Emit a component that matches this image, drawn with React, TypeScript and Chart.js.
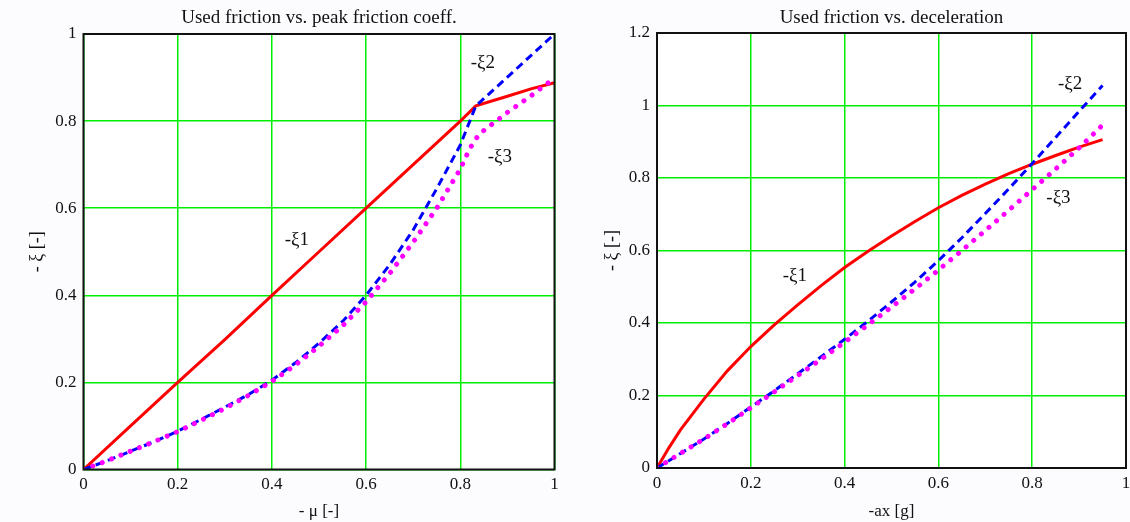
import React, { useEffect, useRef } from 'react';
import { Chart, registerables } from 'chart.js';

Chart.register(...registerables);

// ---------- Left chart: used friction vs. peak friction coefficient ----------
const leftTitle = 'Used friction vs. peak friction coeff.';
const leftXTitle = '- \u03bc [-]';
const leftYTitle = '- \u03be [-]';
const leftXTicks = [0, 0.2, 0.4, 0.6, 0.8, 1];
const leftYTicks = [0, 0.2, 0.4, 0.6, 0.8, 1];

const leftMu1 = [0, 0.1, 0.2, 0.3, 0.4, 0.5, 0.6, 0.7, 0.8, 0.833, 0.9, 0.95, 1.0];
const leftXi1 = [0, 0.1, 0.2, 0.298, 0.4, 0.5, 0.6, 0.7, 0.8, 0.835, 0.857, 0.874, 0.888];

const leftMu2 = [0, 0.05, 0.1, 0.15, 0.2, 0.25, 0.3, 0.35, 0.4, 0.45, 0.5, 0.55, 0.6, 0.65, 0.7, 0.75, 0.8, 0.833, 0.9, 1.0];
const leftXi2 = [0, 0.02, 0.042, 0.064, 0.088, 0.115, 0.143, 0.172, 0.205, 0.245, 0.29, 0.34, 0.4, 0.47, 0.55, 0.645, 0.745, 0.835, 0.901, 1.0];

const leftMu3 = [0, 0.05, 0.1, 0.15, 0.2, 0.25, 0.3, 0.35, 0.4, 0.45, 0.5, 0.55, 0.6, 0.65, 0.7, 0.75, 0.8, 0.82, 0.84, 0.86, 0.88, 0.9, 0.95, 1.0];
const leftXi3 = [0, 0.02, 0.042, 0.064, 0.087, 0.113, 0.14, 0.17, 0.202, 0.24, 0.283, 0.33, 0.385, 0.45, 0.522, 0.6, 0.69, 0.737, 0.77, 0.787, 0.803, 0.82, 0.858, 0.899];

const leftLabelText = ['-\u03be1', '-\u03be2', '-\u03be3'];
const leftLabelX = [0.453, 0.848, 0.884];
const leftLabelY = [0.527, 0.933, 0.718];

// ---------- Right chart: used friction vs. deceleration ----------
const rightTitle = 'Used friction vs. deceleration';
const rightXTitle = '-ax [g]';
const rightYTitle = '- \u03be [-]';
const rightXTicks = [0, 0.2, 0.4, 0.6, 0.8, 1];
const rightYTicks = [0, 0.2, 0.4, 0.6, 0.8, 1, 1.2];

const rightAx1 = [0, 0.025, 0.05, 0.1, 0.15, 0.2, 0.25, 0.3, 0.35, 0.4, 0.45, 0.5, 0.55, 0.6, 0.65, 0.7, 0.75, 0.8, 0.85, 0.9, 0.95];
const rightXi1 = [0, 0.055, 0.105, 0.19, 0.268, 0.335, 0.395, 0.45, 0.503, 0.553, 0.598, 0.64, 0.68, 0.718, 0.752, 0.783, 0.812, 0.838, 0.862, 0.885, 0.906];

const rightAx = [0, 0.05, 0.1, 0.15, 0.2, 0.25, 0.3, 0.35, 0.4, 0.45, 0.5, 0.55, 0.6, 0.65, 0.7, 0.75, 0.8, 0.85, 0.9, 0.95];
const rightXi2 = [0, 0.04, 0.08, 0.123, 0.168, 0.213, 0.26, 0.307, 0.355, 0.405, 0.458, 0.513, 0.572, 0.635, 0.702, 0.77, 0.84, 0.912, 0.984, 1.055];
const rightXi3 = [0, 0.04, 0.08, 0.122, 0.166, 0.21, 0.255, 0.3, 0.347, 0.395, 0.444, 0.494, 0.546, 0.6, 0.655, 0.711, 0.768, 0.825, 0.883, 0.946];

const rightLabelText = ['-\u03be1', '-\u03be2', '-\u03be3'];
const rightLabelX = [0.294, 0.881, 0.856];
const rightLabelY = [0.53, 1.058, 0.744];

const FONT = "'Liberation Serif', 'DejaVu Serif', serif";

const toPoints = (xs: number[], ys: number[]) => xs.map((x, i) => ({ x, y: ys[i] }));

const framePlugin = {
  id: 'frame',
  beforeDraw(chart: any) {
    const { ctx, chartArea: a } = chart;
    ctx.save();
    ctx.fillStyle = '#ffffff';
    ctx.fillRect(a.left, a.top, a.right - a.left, a.bottom - a.top);
    ctx.restore();
  },
  afterDatasetsDraw(chart: any, _args: any, opts: any) {
    const { ctx, chartArea: a } = chart;
    const xs = chart.scales.x;
    const ys = chart.scales.y;
    ctx.save();
    ctx.fillStyle = '#111111';
    ctx.font = `19px ${FONT}`;
    ctx.textAlign = 'center';
    ctx.textBaseline = 'middle';
    (opts.text || []).forEach((t: string, i: number) => {
      ctx.fillText(t, xs.getPixelForValue(opts.xs[i]), ys.getPixelForValue(opts.ys[i]));
    });
    ctx.strokeStyle = '#111111';
    ctx.lineWidth = 2;
    ctx.strokeRect(a.left, a.top, a.right - a.left, a.bottom - a.top);
    ctx.restore();
  },
};

type Spec = {
  title: string;
  xTitle: string;
  yTitle: string;
  xTicks: number[];
  yTicks: number[];
  yMax: number;
  series: { xs: number[]; ys: number[] }[];
  labels: { text: string[]; xs: number[]; ys: number[] };
  yWidth: number;
  xHeight: number;
  padRight: number;
  titleBottom: number;
  yTitlePad: number;
};

function buildConfig(s: Spec): any {
  const [s1, s2, s3] = s.series;
  return {
    type: 'scatter',
    data: {
      datasets: [
        {
          data: toPoints(s3.xs, s3.ys),
          showLine: true,
          borderColor: '#ff00ff',
          borderWidth: 5,
          borderDash: [0.01, 10],
          borderCapStyle: 'round',
          pointRadius: 0,
          tension: 0,
          order: 1,
        },
        {
          data: toPoints(s2.xs, s2.ys),
          showLine: true,
          borderColor: '#0000ff',
          borderWidth: 3,
          borderDash: [8, 5],
          pointRadius: 0,
          tension: 0,
          order: 2,
        },
        {
          data: toPoints(s1.xs, s1.ys),
          showLine: true,
          borderColor: '#ff0000',
          borderWidth: 3,
          pointRadius: 0,
          tension: 0,
          order: 3,
        },
      ],
    },
    options: {
      animation: false,
      responsive: false,
      layout: { padding: { top: 0, left: 0, right: s.padRight, bottom: 0 } },
      plugins: {
        legend: { display: false },
        tooltip: { enabled: false },
        title: {
          display: true,
          text: s.title,
          fullSize: false,
          color: '#111111',
          font: { family: FONT, size: 19, weight: 'normal', lineHeight: 1.2 },
          padding: { top: 7, bottom: s.titleBottom },
        },
        frame: s.labels,
      },
      scales: {
        x: {
          type: 'linear',
          min: 0,
          max: 1,
          afterFit: (sc: any) => {
            sc.height = s.xHeight;
            sc.paddingRight = 0;
            sc.paddingLeft = 0;
          },
          afterBuildTicks: (sc: any) => {
            sc.ticks = s.xTicks.map((v) => ({ value: v }));
          },
          ticks: {
            autoSkip: false,
            maxRotation: 0,
            padding: 5,
            color: '#111111',
            font: { family: FONT, size: 17 },
            callback: (v: number) => String(Number(v.toFixed(2))),
          },
          grid: { color: '#00ee00', lineWidth: 1.5, drawTicks: false },
          border: { display: false },
          title: {
            display: true,
            text: s.xTitle,
            color: '#111111',
            font: { family: FONT, size: 17 },
            padding: { top: 2, bottom: 0 },
          },
        },
        y: {
          type: 'linear',
          min: 0,
          max: s.yMax,
          afterFit: (sc: any) => {
            sc.width = s.yWidth;
            sc.paddingTop = 0;
            sc.paddingBottom = 0;
          },
          afterBuildTicks: (sc: any) => {
            sc.ticks = s.yTicks.map((v) => ({ value: v }));
          },
          ticks: {
            autoSkip: false,
            padding: 7,
            color: '#111111',
            font: { family: FONT, size: 17 },
            callback: (v: number) => String(Number(v.toFixed(2))),
          },
          grid: { color: '#00ee00', lineWidth: 1.5, drawTicks: false },
          border: { display: false },
          title: {
            display: true,
            text: s.yTitle,
            color: '#111111',
            font: { family: FONT, size: 18 },
            padding: { top: s.yTitlePad, bottom: 0 },
          },
        },
      },
    },
    plugins: [framePlugin],
  };
}

function Panel({ spec, left }: { spec: Spec; left: number }) {
  const ref = useRef<HTMLCanvasElement | null>(null);
  useEffect(() => {
    if (!ref.current) return;
    const chart = new Chart(ref.current, buildConfig(spec));
    return () => chart.destroy();
  }, []);
  return (
    <canvas
      ref={ref}
      width={565}
      height={522}
      style={{ position: 'absolute', left, top: 0, width: 565, height: 522 }}
    />
  );
}

const leftSpec: Spec = {
  title: leftTitle,
  xTitle: leftXTitle,
  yTitle: leftYTitle,
  xTicks: leftXTicks,
  yTicks: leftYTicks,
  yMax: 1,
  series: [
    { xs: leftMu1, ys: leftXi1 },
    { xs: leftMu2, ys: leftXi2 },
    { xs: leftMu3, ys: leftXi3 },
  ],
  labels: { text: leftLabelText, xs: leftLabelX, ys: leftLabelY },
  yWidth: 83.5,
  xHeight: 52.5,
  padRight: 10.5,
  titleBottom: 4.2,
  yTitlePad: 26,
};

const rightSpec: Spec = {
  title: rightTitle,
  xTitle: rightXTitle,
  yTitle: rightYTitle,
  xTicks: rightXTicks,
  yTicks: rightYTicks,
  yMax: 1.2,
  series: [
    { xs: rightAx1, ys: rightXi1 },
    { xs: rightAx, ys: rightXi2 },
    { xs: rightAx, ys: rightXi3 },
  ],
  labels: { text: rightLabelText, xs: rightLabelX, ys: rightLabelY },
  yWidth: 92,
  xHeight: 54,
  padRight: 4,
  titleBottom: 3.2,
  yTitlePad: 36,
};

export default function App() {
  return (
    <div
      style={{
        position: 'absolute',
        left: 0,
        top: 0,
        width: 1130,
        height: 522,
        background: '#fcfbfd',
        overflow: 'hidden',
      }}
    >
      <Panel spec={leftSpec} left={0} />
      <Panel spec={rightSpec} left={565} />
    </div>
  );
}
